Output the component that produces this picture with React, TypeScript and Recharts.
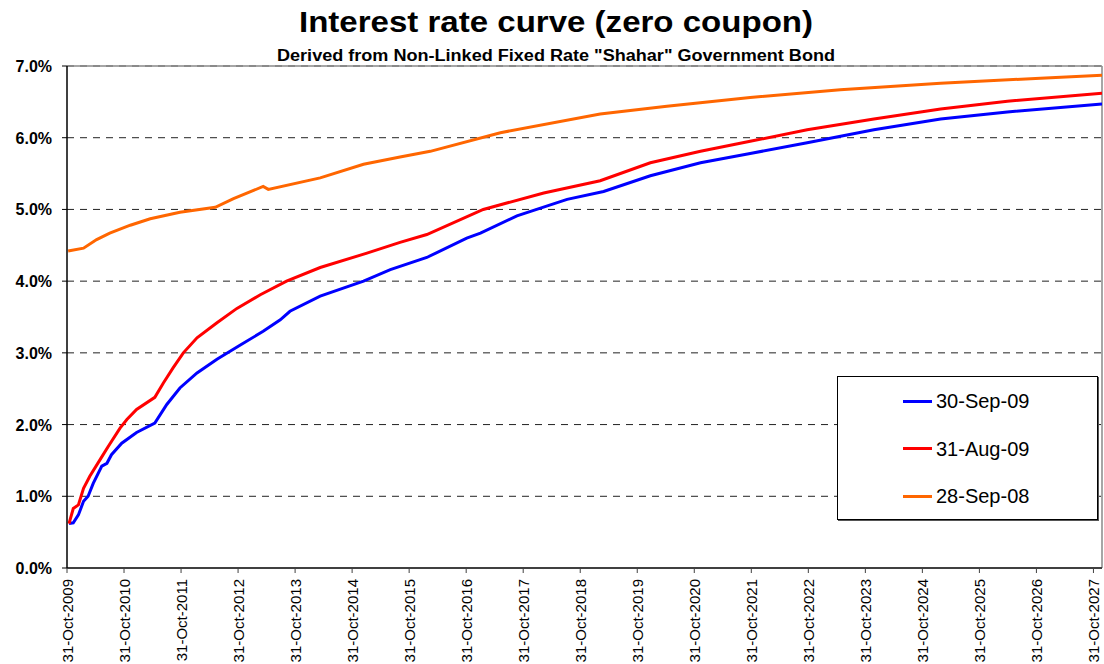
import React from "react";
import {
  LineChart, Line, XAxis, YAxis, CartesianGrid, ReferenceLine
} from "recharts";

// years after 31-Oct-2009
const SEP09_YEARS = [0.035, 0.11, 0.2, 0.29, 0.37, 0.46, 0.61, 0.7, 0.78, 0.96, 1.22, 1.54, 1.75, 1.98, 2.28, 2.63, 3.04, 3.44, 3.74, 3.91, 4.44, 5.2, 5.67, 6.31, 7.01, 7.25, 7.89, 8.77, 9.41, 10.23, 11.11, 11.98, 12.98, 14.15, 15.32, 16.49, 18.15];
const SEP09_RATES = [0.62, 0.63, 0.74, 0.93, 1.0, 1.18, 1.42, 1.46, 1.58, 1.74, 1.89, 2.02, 2.28, 2.51, 2.72, 2.91, 3.11, 3.3, 3.46, 3.58, 3.79, 4.0, 4.16, 4.33, 4.6, 4.67, 4.91, 5.14, 5.25, 5.47, 5.65, 5.78, 5.93, 6.11, 6.26, 6.36, 6.47];

const AUG09_YEARS = [0.035, 0.11, 0.2, 0.29, 0.4, 0.61, 0.72, 0.93, 1.05, 1.22, 1.54, 1.69, 1.86, 2.04, 2.28, 2.63, 2.98, 3.39, 3.85, 4.44, 5.26, 5.84, 6.31, 7.3, 8.36, 9.35, 10.23, 11.11, 11.98, 12.98, 14.15, 15.32, 16.49, 18.15];
const AUG09_RATES = [0.62, 0.83, 0.88, 1.11, 1.28, 1.55, 1.69, 1.95, 2.07, 2.21, 2.38, 2.58, 2.79, 3.0, 3.21, 3.42, 3.62, 3.81, 4.0, 4.19, 4.39, 4.54, 4.65, 5.0, 5.23, 5.4, 5.65, 5.81, 5.95, 6.11, 6.26, 6.4, 6.51, 6.62];

const SEP08_YEARS = [0.02, 0.29, 0.52, 0.75, 1.11, 1.46, 1.98, 2.6, 2.92, 3.44, 3.53, 4.44, 5.2, 5.84, 6.37, 7.6, 9.35, 10.52, 11.98, 13.56, 15.32, 17.07, 18.15];
const SEP08_RATES = [4.42, 4.46, 4.58, 4.67, 4.78, 4.87, 4.96, 5.03, 5.15, 5.32, 5.28, 5.44, 5.63, 5.73, 5.81, 6.07, 6.33, 6.44, 6.56, 6.67, 6.76, 6.83, 6.87];

const YEAR_TICKS = [0, 1, 2, 3, 4, 5, 6, 7, 8, 9, 10, 11, 12, 13, 14, 15, 16, 17, 18];
const RATE_TICKS = [0, 1, 2, 3, 4, 5, 6, 7];

const SERIES = [
  { name: "30-Sep-09", color: "#0000ff", years: SEP09_YEARS, rates: SEP09_RATES },
  { name: "31-Aug-09", color: "#ff0000", years: AUG09_YEARS, rates: AUG09_RATES },
  { name: "28-Sep-08", color: "#ff6600", years: SEP08_YEARS, rates: SEP08_RATES },
];

const FONT = "'Liberation Sans', Arial, sans-serif";

const XTick = (props: any) => {
  const { x, payload } = props;
  return (
    <text
      transform={`translate(${x + 6}, 579) rotate(-90)`}
      textAnchor="end"
      fontSize={15}
      fontFamily={FONT}
      fill="#000"
    >
      {`31-Oct-${2009 + payload.value}`}
    </text>
  );
};

const YTick = (props: any) => {
  const { y, payload } = props;
  return (
    <text x={52} y={y + 6} textAnchor="end" fontSize={16} fontWeight="bold" fontFamily={FONT} fill="#000">
      {payload.value.toFixed(1) + "%"}
    </text>
  );
};

// legend box drawn over the plot, like the Excel one
const LegendBox = () => (
  <div
    style={{
      position: "absolute", left: 837, top: 376, width: 261, height: 144,
      border: "1px solid #000", background: "#fff", boxShadow: "1px 1px 0 #555",
      fontFamily: FONT, fontSize: 20, boxSizing: "border-box",
    }}
  >
    {SERIES.map((s, i) => (
      <div key={s.name} style={{ position: "absolute", left: 65, top: 12 + i * 47.5, display: "flex", alignItems: "center", lineHeight: "24px" }}>
        <span style={{ display: "inline-block", width: 29, height: 3, background: s.color, marginRight: 4 }} />
        <span>{s.name}</span>
      </div>
    ))}
  </div>
);

export default function App() {
  return (
    <div style={{ position: "absolute", left: 0, top: 0, width: 1104, height: 664, background: "#fff" }}>
      <svg width={1104} height={70} style={{ position: "absolute", left: 0, top: 0 }}>
        <text x={299} y={32} fontSize={29} fontWeight="bold" fontFamily={FONT} textLength={514} lengthAdjust="spacingAndGlyphs">
          Interest rate curve (zero coupon)
        </text>
        <text x={277} y={61} fontSize={16} fontWeight="bold" fontFamily={FONT} textLength={558} lengthAdjust="spacingAndGlyphs">
          Derived from Non-Linked Fixed Rate "Shahar" Government Bond
        </text>
      </svg>
      <LineChart width={1104} height={664} margin={{ top: 66, right: 2, bottom: 0, left: 0 }}>
        <CartesianGrid vertical={false} stroke="#222" strokeDasharray="7 6" />
        <XAxis
          type="number"
          dataKey="t"
          domain={[0, 18.15]}
          ticks={YEAR_TICKS}
          interval={0}
          height={96}
          tick={<XTick />}
          tickSize={5}
          axisLine={{ stroke: "#404040", strokeWidth: 2 }}
          tickLine={{ stroke: "#404040" }}
          allowDataOverflow
        />
        <YAxis
          type="number"
          domain={[0, 7]}
          ticks={RATE_TICKS}
          interval={0}
          width={67}
          tick={<YTick />}
          tickSize={5}
          axisLine={{ stroke: "#000", strokeWidth: 1.5 }}
          tickLine={{ stroke: "#000" }}
        />
        <ReferenceLine y={7} stroke="#888" strokeWidth={1.5} />
        <ReferenceLine x={18.15} stroke="#888" strokeWidth={1.5} />
        {SERIES.map((s) => (
          <Line
            key={s.name}
            name={s.name}
            data={s.years.map((t, i) => ({ t, v: s.rates[i] }))}
            dataKey="v"
            type="linear"
            stroke={s.color}
            strokeWidth={3}
            dot={false}
            isAnimationActive={false}
          />
        ))}
      </LineChart>
      <LegendBox />
    </div>
  );
}
